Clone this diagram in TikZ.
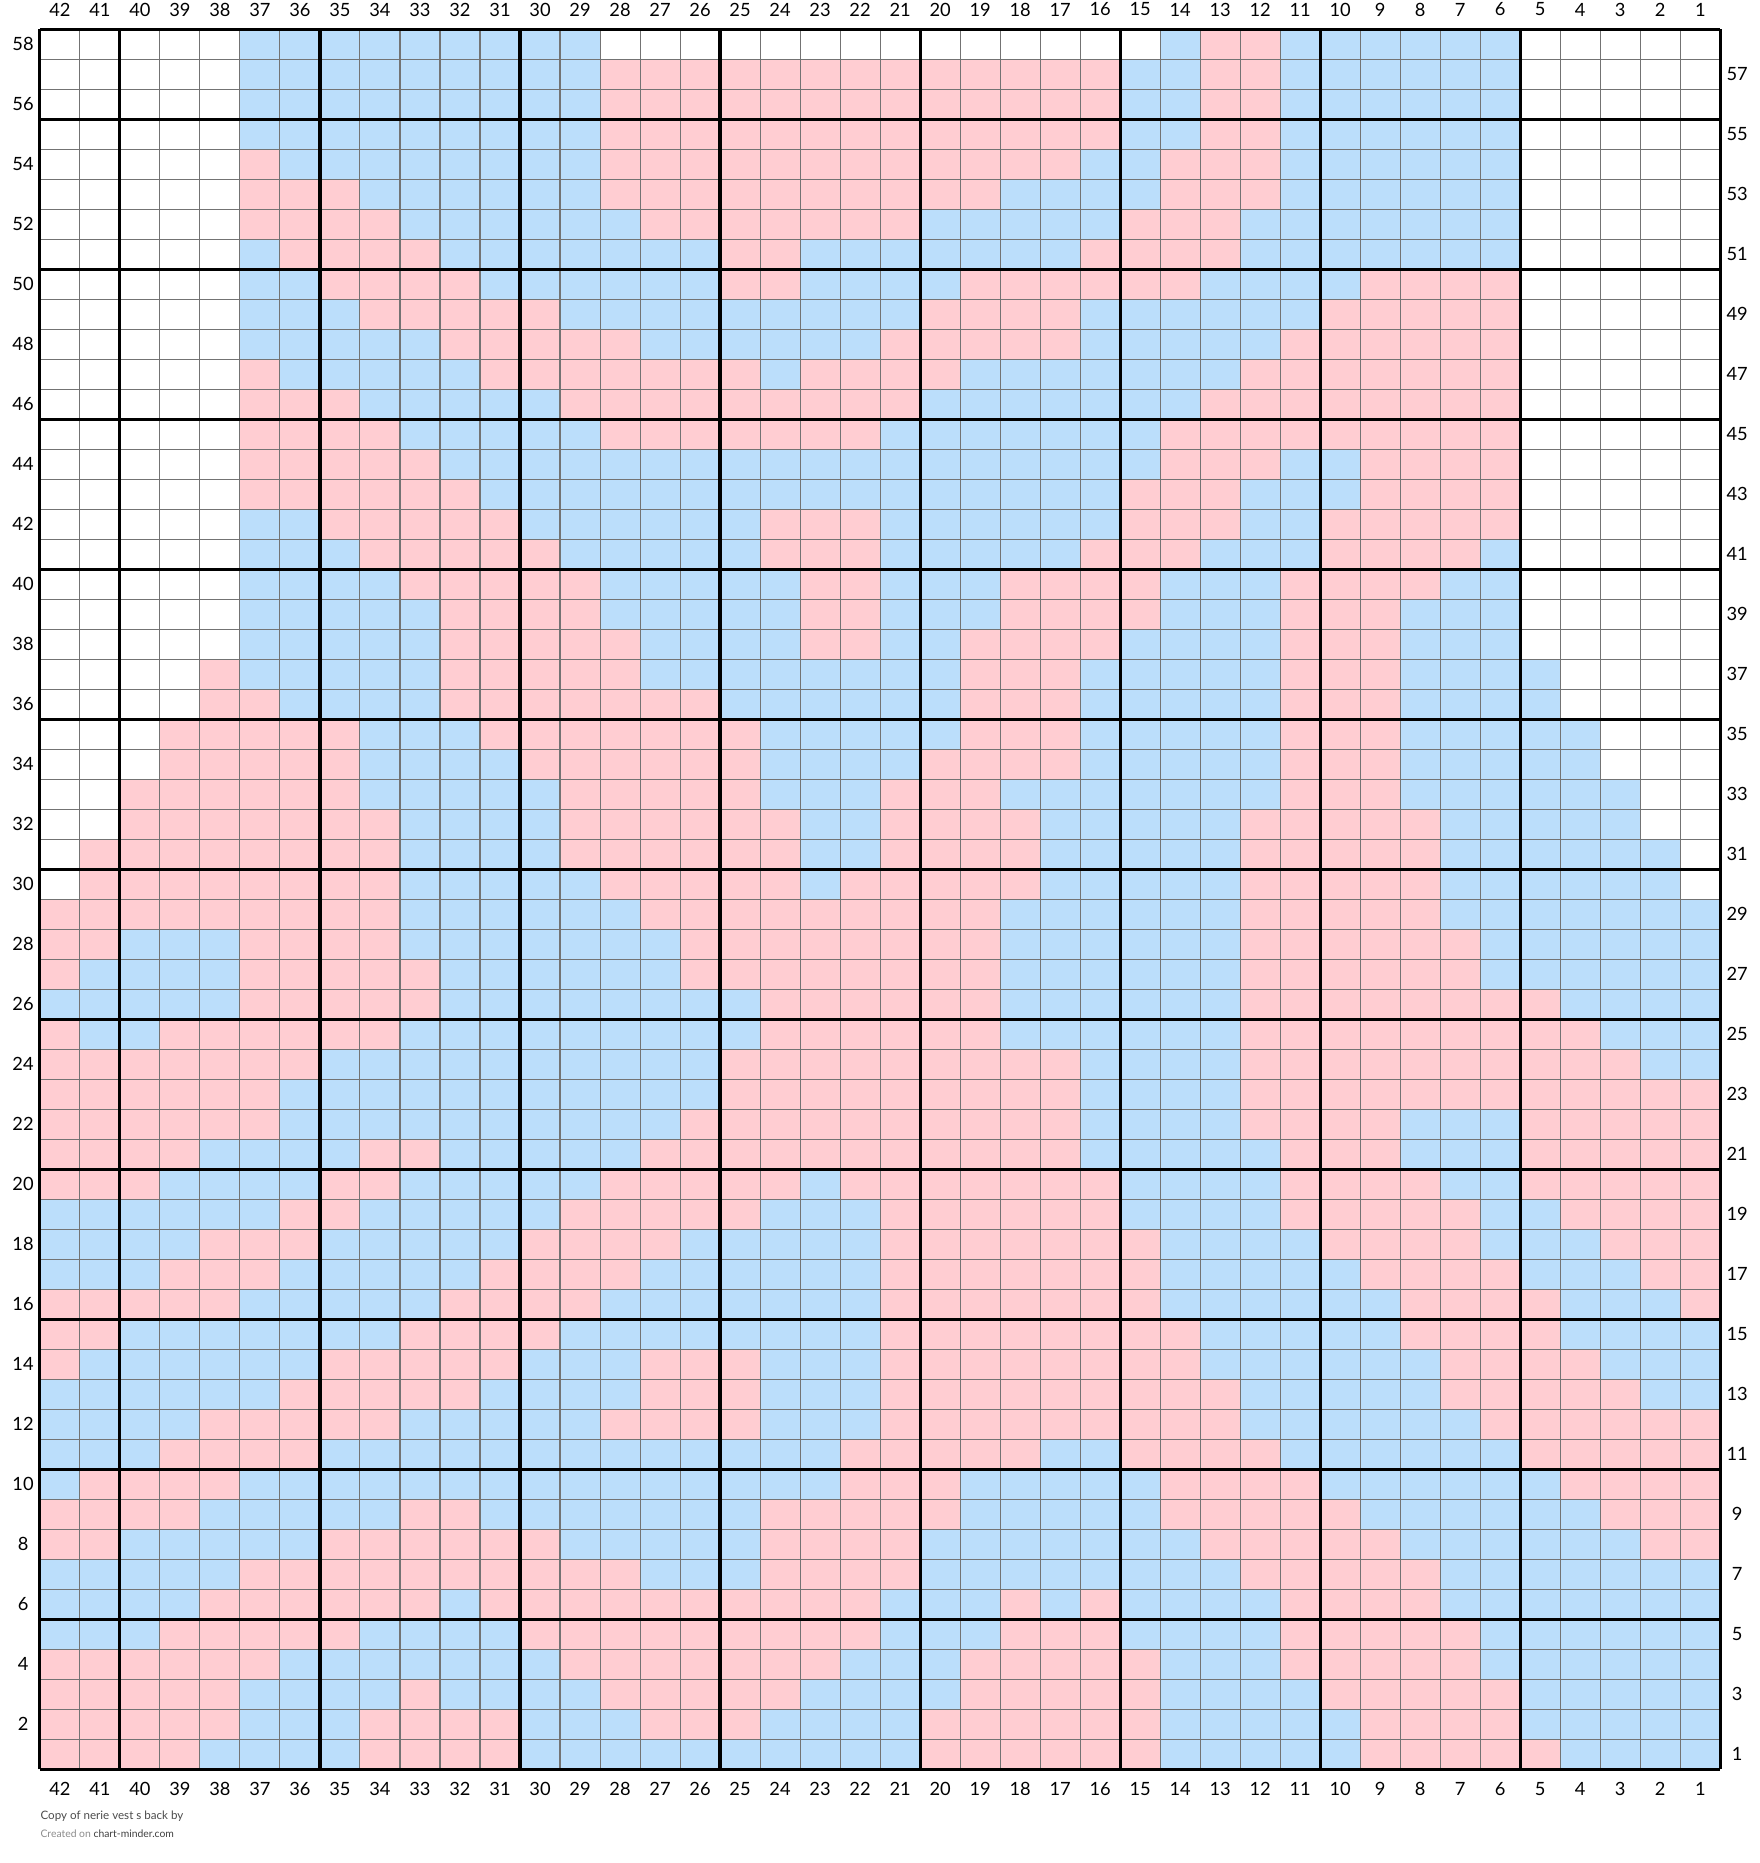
\documentclass[tikz,border=0pt]{standalone}
\usepackage{fontspec}
\setmainfont{Lato}
\usetikzlibrary{positioning}
\definecolor{pk}{HTML}{FFCDD2}
\definecolor{bl}{HTML}{BBDEFB}
\tikzset{>=latex}
\tikzstyle{gridline} = [draw=black!55, line width=0.3pt]
\tikzstyle{boldline} = [draw=black, line width=0.9pt]
\tikzstyle{numlabel} = [font=\fontsize{5.2}{6}\selectfont, inner sep=0pt]

\begin{document}
\begin{tikzpicture}[x=0.4001cm, y=0.3cm]
    \useasboundingbox (-0.997,-3.123) rectangle (42.992,58.977);
    \fill[white] (-0.997,-3.123) rectangle (42.992,58.977);
    % stitches, row / colour runs (from col .. to col)
    \foreach \r/\runs in {
        58/{bl/37/29,bl/14/14,pk/13/12,bl/11/6},
        57/{bl/37/29,pk/28/16,bl/15/14,pk/13/12,bl/11/6},
        56/{bl/37/29,pk/28/16,bl/15/14,pk/13/12,bl/11/6},
        55/{bl/37/29,pk/28/16,bl/15/14,pk/13/12,bl/11/6},
        54/{pk/37/37,bl/36/29,pk/28/17,bl/16/15,pk/14/12,bl/11/6},
        53/{pk/37/35,bl/34/29,pk/28/19,bl/18/15,pk/14/12,bl/11/6},
        52/{pk/37/34,bl/33/28,pk/27/21,bl/20/16,pk/15/13,bl/12/6},
        51/{bl/37/37,pk/36/33,bl/32/26,pk/25/24,bl/23/17,pk/16/13,bl/12/6},
        50/{bl/37/36,pk/35/32,bl/31/26,pk/25/24,bl/23/20,pk/19/14,bl/13/10,pk/9/6},
        49/{bl/37/35,pk/34/30,bl/29/21,pk/20/17,bl/16/11,pk/10/6},
        48/{bl/37/33,pk/32/28,bl/27/22,pk/21/17,bl/16/12,pk/11/6},
        47/{pk/37/37,bl/36/32,pk/31/25,bl/24/24,pk/23/20,bl/19/13,pk/12/6},
        46/{pk/37/35,bl/34/30,pk/29/21,bl/20/14,pk/13/6},
        45/{pk/37/34,bl/33/29,pk/28/22,bl/21/15,pk/14/6},
        44/{pk/37/33,bl/32/15,pk/14/12,bl/11/10,pk/9/6},
        43/{pk/37/32,bl/31/16,pk/15/13,bl/12/10,pk/9/6},
        42/{bl/37/36,pk/35/31,bl/30/25,pk/24/22,bl/21/16,pk/15/13,bl/12/11,pk/10/6},
        41/{bl/37/35,pk/34/30,bl/29/25,pk/24/22,bl/21/17,pk/16/14,bl/13/11,pk/10/7,bl/6/6},
        40/{bl/37/34,pk/33/29,bl/28/24,pk/23/22,bl/21/19,pk/18/15,bl/14/12,pk/11/8,bl/7/6},
        39/{bl/37/33,pk/32/29,bl/28/24,pk/23/22,bl/21/19,pk/18/15,bl/14/12,pk/11/9,bl/8/6},
        38/{bl/37/33,pk/32/28,bl/27/24,pk/23/22,bl/21/20,pk/19/16,bl/15/12,pk/11/9,bl/8/6},
        37/{pk/38/38,bl/37/33,pk/32/28,bl/27/20,pk/19/17,bl/16/12,pk/11/9,bl/8/5},
        36/{pk/38/37,bl/36/33,pk/32/26,bl/25/20,pk/19/17,bl/16/12,pk/11/9,bl/8/5},
        35/{pk/39/35,bl/34/32,pk/31/25,bl/24/20,pk/19/17,bl/16/12,pk/11/9,bl/8/4},
        34/{pk/39/35,bl/34/31,pk/30/25,bl/24/21,pk/20/17,bl/16/12,pk/11/9,bl/8/4},
        33/{pk/40/35,bl/34/30,pk/29/25,bl/24/22,pk/21/19,bl/18/12,pk/11/9,bl/8/3},
        32/{pk/40/34,bl/33/30,pk/29/24,bl/23/22,pk/21/18,bl/17/13,pk/12/8,bl/7/3},
        31/{pk/41/34,bl/33/30,pk/29/24,bl/23/22,pk/21/18,bl/17/13,pk/12/8,bl/7/2},
        30/{pk/41/34,bl/33/29,pk/28/24,bl/23/23,pk/22/18,bl/17/13,pk/12/8,bl/7/2},
        29/{pk/42/34,bl/33/28,pk/27/19,bl/18/13,pk/12/8,bl/7/1},
        28/{pk/42/41,bl/40/38,pk/37/34,bl/33/27,pk/26/19,bl/18/13,pk/12/7,bl/6/1},
        27/{pk/42/42,bl/41/38,pk/37/33,bl/32/27,pk/26/19,bl/18/13,pk/12/7,bl/6/1},
        26/{bl/42/38,pk/37/33,bl/32/25,pk/24/19,bl/18/13,pk/12/5,bl/4/1},
        25/{pk/42/42,bl/41/40,pk/39/34,bl/33/25,pk/24/19,bl/18/13,pk/12/4,bl/3/1},
        24/{pk/42/36,bl/35/26,pk/25/17,bl/16/13,pk/12/3,bl/2/1},
        23/{pk/42/37,bl/36/26,pk/25/17,bl/16/13,pk/12/1},
        22/{pk/42/37,bl/36/27,pk/26/17,bl/16/13,pk/12/9,bl/8/6,pk/5/1},
        21/{pk/42/39,bl/38/35,pk/34/33,bl/32/28,pk/27/17,bl/16/12,pk/11/9,bl/8/6,pk/5/1},
        20/{pk/42/40,bl/39/36,pk/35/34,bl/33/29,pk/28/24,bl/23/23,pk/22/16,bl/15/12,pk/11/8,bl/7/6,pk/5/1},
        19/{bl/42/37,pk/36/35,bl/34/30,pk/29/25,bl/24/22,pk/21/16,bl/15/12,pk/11/7,bl/6/5,pk/4/1},
        18/{bl/42/39,pk/38/36,bl/35/31,pk/30/27,bl/26/22,pk/21/15,bl/14/11,pk/10/7,bl/6/4,pk/3/1},
        17/{bl/42/40,pk/39/37,bl/36/32,pk/31/28,bl/27/22,pk/21/15,bl/14/10,pk/9/6,bl/5/3,pk/2/1},
        16/{pk/42/38,bl/37/33,pk/32/29,bl/28/22,pk/21/15,bl/14/9,pk/8/5,bl/4/2,pk/1/1},
        15/{pk/42/41,bl/40/34,pk/33/30,bl/29/22,pk/21/14,bl/13/9,pk/8/5,bl/4/1},
        14/{pk/42/42,bl/41/36,pk/35/31,bl/30/28,pk/27/25,bl/24/22,pk/21/14,bl/13/8,pk/7/4,bl/3/1},
        13/{bl/42/37,pk/36/32,bl/31/28,pk/27/25,bl/24/22,pk/21/13,bl/12/8,pk/7/3,bl/2/1},
        12/{bl/42/39,pk/38/34,bl/33/29,pk/28/25,bl/24/22,pk/21/13,bl/12/7,pk/6/1},
        11/{bl/42/40,pk/39/36,bl/35/23,pk/22/18,bl/17/16,pk/15/12,bl/11/6,pk/5/1},
        10/{bl/42/42,pk/41/38,bl/37/23,pk/22/20,bl/19/15,pk/14/11,bl/10/5,pk/4/1},
        9/{pk/42/39,bl/38/34,pk/33/32,bl/31/25,pk/24/20,bl/19/15,pk/14/10,bl/9/4,pk/3/1},
        8/{pk/42/41,bl/40/36,pk/35/30,bl/29/25,pk/24/21,bl/20/14,pk/13/9,bl/8/3,pk/2/1},
        7/{bl/42/38,pk/37/28,bl/27/25,pk/24/21,bl/20/13,pk/12/8,bl/7/1},
        6/{bl/42/39,pk/38/33,bl/32/32,pk/31/22,bl/21/19,pk/18/18,bl/17/17,pk/16/16,bl/15/12,pk/11/8,bl/7/1},
        5/{bl/42/40,pk/39/35,bl/34/31,pk/30/22,bl/21/19,pk/18/16,bl/15/12,pk/11/7,bl/6/1},
        4/{pk/42/37,bl/36/30,pk/29/23,bl/22/20,pk/19/15,bl/14/12,pk/11/7,bl/6/1},
        3/{pk/42/38,bl/37/34,pk/33/33,bl/32/29,pk/28/24,bl/23/20,pk/19/15,bl/14/11,pk/10/6,bl/5/1},
        2/{pk/42/38,bl/37/35,pk/34/31,bl/30/28,pk/27/25,bl/24/21,pk/20/15,bl/14/10,pk/9/6,bl/5/1},
        1/{pk/42/39,bl/38/35,pk/34/31,bl/30/21,pk/20/15,bl/14/10,pk/9/5,bl/4/1}}
    {
        \foreach \c/\a/\b in \runs
            \fill[\c] ({42-\a},{\r-1}) rectangle ({43-\b},\r);
    }
    % grid
    \foreach \i in {0,...,42}
        \draw[gridline] (\i,0) -- (\i,58);
    \foreach \j in {0,...,58}
        \draw[gridline] (0,\j) -- (42,\j);
    \foreach \i in {0,2,7,12,17,22,27,32,37,42}
        \draw[boldline] (\i,0) -- (\i,58);
    \foreach \j in {0,5,...,55,58}
        \draw[boldline] (0,\j) -- (42,\j);
    % numbers
    \foreach \c in {1,...,42} {
        \node[numlabel] (top\c) at ({42.5-\c},58.66) {\c};
        \node[numlabel] (bot\c) at ({42.5-\c},-0.66) {\c};
    }
    \foreach \r in {2,4,...,58}
        \node[numlabel] (left\r) at (-0.42,{\r-0.5}) {\r};
    \foreach \r in {1,3,...,57}
        \node[numlabel] (right\r) at (42.42,{\r-0.5}) {\r};
    \node[anchor=west, inner sep=0pt, text=black!70, font=\fontsize{3.3}{3.8}\selectfont] (title) at (0,-1.56) {Copy of nerie vest s back by};
    \node[anchor=west, inner sep=0pt, text=black!45, font=\fontsize{2.95}{3.4}\selectfont] (credit) at (0,-2.15) {Created on \textcolor{black!75}{chart-minder.com}};
\end{tikzpicture}
\end{document}
